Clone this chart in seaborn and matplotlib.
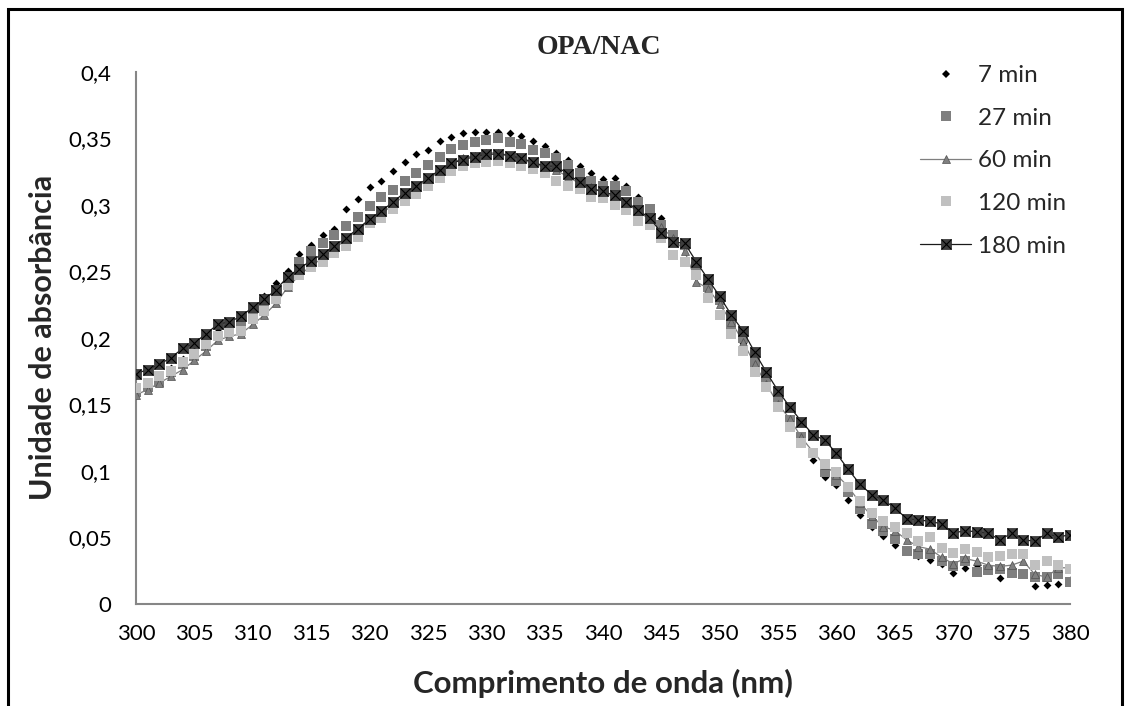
import numpy as np
import matplotlib
matplotlib.use("Agg")
import matplotlib.pyplot as plt
import seaborn as sns
from matplotlib.lines import Line2D
from matplotlib.patches import Rectangle
from matplotlib.ticker import FuncFormatter, MultipleLocator

# Wavelength grid (nm) and absorbance readings for each reaction time
wavelength_nm = np.arange(300, 381)

abs_7min = [
    0.160, 0.165, 0.170, 0.177, 0.184, 0.190, 0.198, 0.205, 0.210, 0.213,
    0.221, 0.231, 0.241, 0.250, 0.263, 0.270, 0.277, 0.282, 0.297, 0.304,
    0.313, 0.318, 0.325, 0.332, 0.338, 0.341, 0.348, 0.351, 0.354, 0.355,
    0.355, 0.355, 0.354, 0.352, 0.348, 0.344, 0.339, 0.334, 0.329, 0.324,
    0.319, 0.320, 0.314, 0.306, 0.296, 0.290, 0.278, 0.271, 0.256, 0.244,
    0.229, 0.214, 0.196, 0.180, 0.166, 0.150, 0.138, 0.124, 0.108, 0.095,
    0.089, 0.078, 0.067, 0.058, 0.051, 0.044, 0.040, 0.036, 0.033, 0.030,
    0.023, 0.027, 0.029, 0.026, 0.019, 0.024, 0.022, 0.013, 0.014, 0.015,
    0.018,
]

abs_27min = [
    0.159, 0.163, 0.167, 0.174, 0.180, 0.186, 0.194, 0.201, 0.206, 0.209,
    0.216, 0.227, 0.236, 0.246, 0.257, 0.265, 0.271, 0.277, 0.284, 0.291,
    0.299, 0.306, 0.311, 0.318, 0.324, 0.330, 0.336, 0.342, 0.345, 0.347,
    0.349, 0.350, 0.347, 0.346, 0.341, 0.339, 0.335, 0.330, 0.324, 0.318,
    0.314, 0.314, 0.310, 0.302, 0.297, 0.285, 0.277, 0.270, 0.253, 0.238,
    0.228, 0.210, 0.200, 0.181, 0.168, 0.152, 0.138, 0.125, 0.113, 0.099,
    0.092, 0.084, 0.071, 0.060, 0.055, 0.049, 0.040, 0.037, 0.037, 0.032,
    0.028, 0.032, 0.024, 0.025, 0.026, 0.023, 0.022, 0.020, 0.020, 0.022,
    0.016,
]

abs_60min = [
    0.157, 0.161, 0.166, 0.171, 0.176, 0.183, 0.190, 0.198, 0.201, 0.203,
    0.210, 0.217, 0.226, 0.238, 0.247, 0.254, 0.260, 0.267, 0.274, 0.281,
    0.288, 0.293, 0.300, 0.307, 0.313, 0.319, 0.325, 0.331, 0.335, 0.337,
    0.339, 0.339, 0.337, 0.334, 0.331, 0.328, 0.326, 0.321, 0.316, 0.313,
    0.309, 0.306, 0.301, 0.295, 0.289, 0.283, 0.275, 0.265, 0.242, 0.237,
    0.225, 0.212, 0.197, 0.180, 0.165, 0.150, 0.139, 0.125, 0.114, 0.104,
    0.097, 0.088, 0.076, 0.066, 0.058, 0.055, 0.048, 0.043, 0.041, 0.035,
    0.030, 0.034, 0.032, 0.029, 0.028, 0.029, 0.032, 0.022, 0.020, 0.027,
    0.027,
]

abs_120min = [
    0.162, 0.166, 0.171, 0.175, 0.182, 0.188, 0.195, 0.201, 0.204, 0.205,
    0.214, 0.220, 0.229, 0.240, 0.247, 0.253, 0.257, 0.264, 0.269, 0.276,
    0.286, 0.290, 0.297, 0.303, 0.308, 0.314, 0.320, 0.325, 0.329, 0.331,
    0.332, 0.333, 0.331, 0.329, 0.327, 0.324, 0.318, 0.314, 0.312, 0.306,
    0.305, 0.300, 0.296, 0.288, 0.285, 0.275, 0.262, 0.257, 0.247, 0.230,
    0.217, 0.203, 0.190, 0.174, 0.163, 0.148, 0.133, 0.121, 0.113, 0.105,
    0.099, 0.088, 0.077, 0.068, 0.062, 0.058, 0.053, 0.047, 0.050, 0.042,
    0.038, 0.041, 0.039, 0.035, 0.036, 0.037, 0.037, 0.029, 0.032, 0.029,
    0.026,
]

abs_180min = [
    0.173, 0.176, 0.180, 0.185, 0.192, 0.196, 0.203, 0.210, 0.212, 0.216,
    0.223, 0.229, 0.236, 0.246, 0.252, 0.258, 0.263, 0.269, 0.275, 0.282,
    0.289, 0.295, 0.302, 0.309, 0.314, 0.320, 0.326, 0.331, 0.334, 0.336,
    0.338, 0.338, 0.337, 0.335, 0.332, 0.329, 0.329, 0.323, 0.317, 0.312,
    0.310, 0.307, 0.302, 0.296, 0.290, 0.279, 0.272, 0.271, 0.257, 0.244,
    0.231, 0.217, 0.205, 0.189, 0.174, 0.160, 0.148, 0.137, 0.127, 0.123,
    0.113, 0.101, 0.090, 0.082, 0.078, 0.072, 0.064, 0.063, 0.062, 0.060,
    0.053, 0.055, 0.054, 0.053, 0.048, 0.053, 0.048, 0.047, 0.053, 0.050,
    0.052,
]

series_labels = ["7 min", "27 min", "60 min", "120 min", "180 min"]

sns.set_style("white")
plt.rcParams["font.family"] = ["Lato", "DejaVu Sans"]

fig = plt.figure(figsize=(11.25, 7.06), dpi=100)
ax = fig.add_axes([0.1209, 0.1449, 0.8302, 0.7535])

# 7 min: black diamonds, no line
sns.scatterplot(x=wavelength_nm, y=abs_7min, marker="D", color="black",
                s=16, linewidth=0, ax=ax, zorder=3)
# 27 min: mid-grey squares, no line
sns.scatterplot(x=wavelength_nm, y=abs_27min, marker="s", color="#7f7f7f",
                s=46, linewidth=0, ax=ax, zorder=4)
# 60 min: grey triangles joined by a thin grey line
sns.lineplot(x=wavelength_nm, y=abs_60min, color="#7f7f7f", linewidth=0.9,
             marker="^", markersize=6, markerfacecolor="#7f7f7f",
             markeredgecolor="#505050", markeredgewidth=0.5, ax=ax, zorder=5)
# 120 min: light grey squares, no line
sns.scatterplot(x=wavelength_nm, y=abs_120min, marker="s", color="#c0c0c0",
                s=46, linewidth=0, ax=ax, zorder=6)
# 180 min: dark squares with a cross, joined by a thin black line
sns.lineplot(x=wavelength_nm, y=abs_180min, color="#1a1a1a", linewidth=0.9,
             marker="s", markersize=7, markerfacecolor="#3d3d3d",
             markeredgecolor="#2a2a2a", markeredgewidth=0.5, ax=ax, zorder=7)
ax.plot(wavelength_nm, abs_180min, linestyle="none", marker="x",
        markersize=6.5, markeredgecolor="black", markeredgewidth=0.8, zorder=8)

# Axes styling
ax.set_xlim(300, 380)
ax.set_ylim(0, 0.4)
ax.xaxis.set_major_locator(MultipleLocator(5))
ax.yaxis.set_major_locator(MultipleLocator(0.05))
ax.yaxis.set_major_formatter(
    FuncFormatter(lambda v, _: f"{round(v, 2):g}".replace(".", ",")))
for side in ("top", "right"):
    ax.spines[side].set_visible(False)
for side in ("left", "bottom"):
    ax.spines[side].set_color("#868686")
    ax.spines[side].set_linewidth(1.5)
ax.tick_params(axis="both", direction="out", length=5.5, width=1.3,
               color="#868686", labelsize=16, labelcolor="black")
ax.tick_params(axis="y", pad=12)
ax.tick_params(axis="x", pad=9)
ax.margins(0)

ax.set_xlabel("Comprimento de onda (nm)", fontsize=22.5, fontweight="bold",
              labelpad=18)
ax.set_ylabel("Unidade de absorbância", fontsize=22, fontweight="bold",
              labelpad=8)
fig.text(0.5325, 1 - 48 / 706, "OPA/NAC", ha="center", va="center",
         fontsize=20, fontweight="bold", family="Liberation Serif")

# Legend
handles = [
    Line2D([], [], linestyle="none", marker="D", markersize=4,
           markerfacecolor="black", markeredgewidth=0),
    Line2D([], [], linestyle="none", marker="s", markersize=6.8,
           markerfacecolor="#7f7f7f", markeredgewidth=0),
    Line2D([], [], color="#7f7f7f", linewidth=0.9, marker="^", markersize=6,
           markerfacecolor="#7f7f7f", markeredgecolor="#505050",
           markeredgewidth=0.5),
    Line2D([], [], linestyle="none", marker="s", markersize=6.8,
           markerfacecolor="#c0c0c0", markeredgewidth=0),
    (Line2D([], [], color="#1a1a1a", linewidth=0.9, marker="s", markersize=7,
            markerfacecolor="#3d3d3d", markeredgecolor="#2a2a2a",
            markeredgewidth=0.5),
     Line2D([], [], linestyle="none", marker="x", markersize=6.5,
            markeredgecolor="black", markeredgewidth=0.8)),
]
fig.legend(handles, series_labels, loc="upper left",
           bbox_to_anchor=(920 / 1125, 1 - 65 / 706), frameon=False,
           fontsize=17.5, handlelength=2.1, handletextpad=0.3,
           labelspacing=0.89, borderpad=0, borderaxespad=0)

# Outer chart border
fig.patches.append(Rectangle((8 / 1125, -0.05), 1114 / 1125, 1.05 - 9 / 706,
                             transform=fig.transFigure, fill=False,
                             edgecolor="black", linewidth=2.2, zorder=10))

fig.savefig("out.png", dpi=100, facecolor="white")
